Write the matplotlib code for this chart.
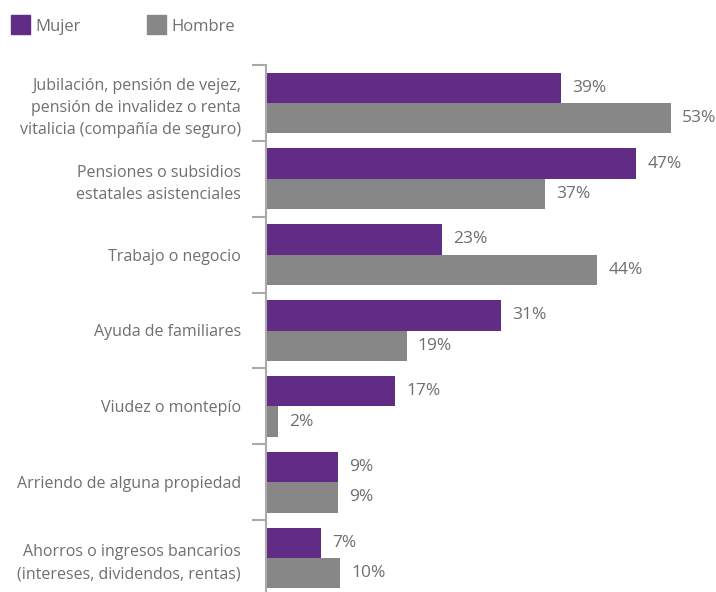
import matplotlib
matplotlib.use("Agg")
import matplotlib.pyplot as plt
import numpy as np
from matplotlib.patches import Rectangle

categories = [
    "Jubilación, pensión de vejez,\npensión de invalidez o renta\nvitalicia (compañía de seguro)",
    "Pensiones o subsidios\nestatales asistenciales",
    "Trabajo o negocio",
    "Ayuda de familiares",
    "Viudez o montepío",
    "Arriendo de alguna propiedad",
    "Ahorros o ingresos bancarios\n(intereses, dividendos, rentas)",
]
# bar lengths
mujer = [38.6, 48.4, 23.0, 30.7, 16.9, 9.4, 7.2]
hombre = [52.9, 36.5, 43.3, 18.4, 1.6, 9.4, 9.7]
# printed labels
mujer_labels = [39, 47, 23, 31, 17, 9, 7]
hombre_labels = [53, 37, 44, 19, 2, 9, 10]
series_names = ["Mujer", "Hombre"]

PURPLE = "#612c85"
GRAY = "#878787"
TEXT = "#6f6f6f"
AXIS = "#aaaaaa"
FONT = ["Open Sans", "DejaVu Sans"]

W, H = 716, 592
fig = plt.figure(figsize=(W / 100, H / 100), dpi=100)
ax = fig.add_axes([266 / W, -4 / H, 450 / W, 531 / H])
ax.set_xlim(0, 450 / 7.65)
n = len(categories)
ax.set_ylim(n - 0.5, -0.5)

y = np.arange(n)
bh = 0.4
ax.barh(y - bh / 2, mujer, height=bh, color=PURPLE)
ax.barh(y + bh / 2, hombre, height=bh, color=GRAY)

for i in range(n):
    ax.annotate(f"{mujer_labels[i]}%", (mujer[i], y[i] - bh / 2), xytext=(8, 0),
                textcoords="offset points", va="center", ha="left",
                color=TEXT, fontsize=12.5, family=FONT)
    ax.annotate(f"{hombre_labels[i]}%", (hombre[i], y[i] + bh / 2), xytext=(8, 0),
                textcoords="offset points", va="center", ha="left",
                color=TEXT, fontsize=12.5, family=FONT)

ax.set_yticks(y)
ax.set_yticklabels(categories, fontsize=11.5, color=TEXT, family=FONT,
                   linespacing=1.5)
ax.tick_params(axis="y", which="major", length=0, pad=18)
ax.set_yticks(np.arange(-0.5, n - 0.5, 1), minor=True)
ax.tick_params(axis="y", which="minor", length=10, width=1.5, color=AXIS)
ax.set_xticks([])
for s in ["top", "right", "bottom"]:
    ax.spines[s].set_visible(False)
ax.spines["left"].set_color(AXIS)
ax.spines["left"].set_linewidth(1.5)

# legend
for name, color, x0 in [(series_names[0], PURPLE, 11), (series_names[1], GRAY, 147)]:
    fig.patches.append(Rectangle((x0 / W, (H - 34) / H), 19 / W, 19 / H,
                                 transform=fig.transFigure, color=color))
    fig.text((x0 + 24) / W, (H - 27) / H, name, fontsize=12, color=TEXT,
             family=FONT, va="center", ha="left")

fig.savefig("out.png", dpi=100)
